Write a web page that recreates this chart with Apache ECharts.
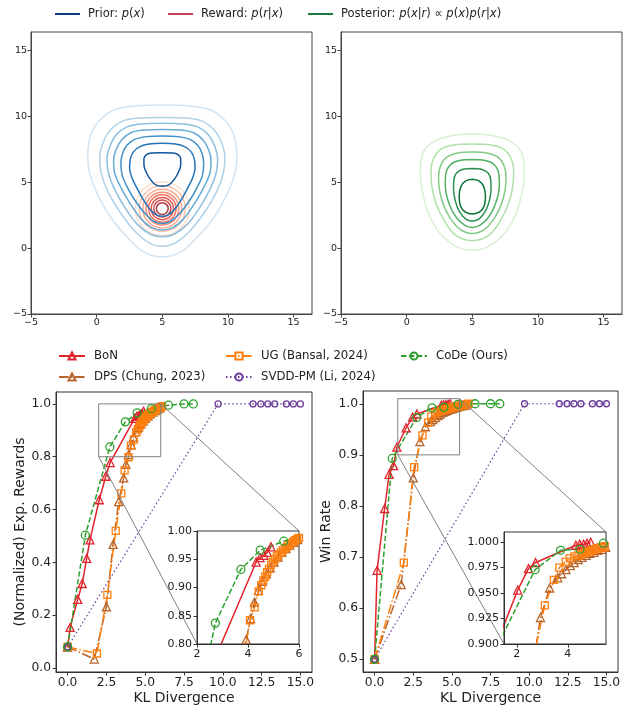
<!DOCTYPE html>
<html>
<head>
<meta charset="utf-8">
<script src="https://cdn.jsdelivr.net/npm/echarts@6/dist/echarts.min.js"></script>
<style>
  html, body { margin: 0; padding: 0; background: #fff; }
  #chart { width: 627px; height: 709px; }
</style>
</head>
<body>
<div id="chart"></div>
<script>
// ---------- toy 2-D example (top) ----------
var contourTicks = [-5, 0, 5, 10, 15];

// prior p(x) contours, outer -> inner
var prior1 = [[5,10.86],[3,10.8],[1.3,10.48],[0.15,9.6],[-0.48,8.46],[-0.68,6.94],[-0.53,5.67],[0.03,4.15],[1.04,2.38],[2.31,0.86],[3.58,-0.28],[5,-0.66],[6.42,-0.28],[7.69,0.86],[8.96,2.38],[9.97,4.15],[10.53,5.67],[10.68,6.94],[10.48,8.46],[9.85,9.6],[8.7,10.48],[7,10.8],[5,10.86]];
var prior2 = [[5,9.92],[3.2,9.87],[1.9,9.6],[1.0,8.9],[0.45,7.9],[0.23,6.9],[0.35,5.7],[0.85,4.3],[1.8,2.7],[2.9,1.3],[4,0.4],[5,0.15],[6,0.4],[7.1,1.3],[8.2,2.7],[9.15,4.3],[9.65,5.7],[9.77,6.9],[9.55,7.9],[9,8.9],[8.1,9.6],[6.8,9.87],[5,9.92]];
var prior3 = [[5,9.47],[3.4,9.42],[2.3,9.2],[1.5,8.6],[1.0,7.7],[0.79,6.8],[0.9,5.7],[1.4,4.4],[2.2,3.0],[3.1,1.8],[4.1,1.05],[5,0.86],[5.9,1.05],[6.9,1.8],[7.8,3.0],[8.6,4.4],[9.1,5.7],[9.21,6.8],[9.0,7.7],[8.5,8.6],[7.7,9.2],[6.6,9.42],[5,9.47]];
var prior4 = [[5,9.01],[3.6,8.96],[2.6,8.75],[1.9,8.2],[1.45,7.4],[1.29,6.6],[1.4,5.6],[1.9,4.5],[2.6,3.3],[3.4,2.2],[4.2,1.55],[5,1.37],[5.8,1.55],[6.6,2.2],[7.4,3.3],[8.1,4.5],[8.6,5.6],[8.71,6.6],[8.55,7.4],[8.1,8.2],[7.4,8.75],[6.4,8.96],[5,9.01]];
var prior5 = [[5,8.51],[3.8,8.46],[2.9,8.25],[2.3,7.8],[1.95,7.1],[1.85,6.4],[1.95,5.5],[2.4,4.5],[3.0,3.5],[3.7,2.6],[4.4,2.0],[5,1.87],[5.6,2.0],[6.3,2.6],[7.0,3.5],[7.6,4.5],[8.05,5.5],[8.15,6.4],[8.05,7.1],[7.7,7.8],[7.1,8.25],[6.2,8.46],[5,8.51]];
var prior6 = [[5,7.95],[4,7.9],[3.3,7.7],[2.8,7.3],[2.55,6.7],[2.51,6.1],[2.7,5.3],[3.1,4.5],[3.6,3.6],[4.1,2.9],[4.6,2.5],[5,2.42],[5.4,2.5],[5.9,2.9],[6.4,3.6],[6.9,4.5],[7.3,5.3],[7.49,6.1],[7.45,6.7],[7.2,7.3],[6.7,7.7],[6,7.9],[5,7.95]];
var prior7 = [[5,7.24],[4.2,7.22],[3.8,7.1],[3.6,6.8],[3.6,6.3],[3.8,5.7],[4.1,5.2],[4.5,4.8],[5,4.7],[5.5,4.8],[5.9,5.2],[6.2,5.7],[6.4,6.3],[6.4,6.8],[6.2,7.1],[5.8,7.22],[5,7.24]];

// reward p(r|x): concentric rings
var rewardCenter = [5, 3];
var rewardRadii = [2.05, 1.75, 1.48, 1.25, 1.05, 0.85, 0.65, 0.45];

// posterior contours, outer -> inner
var post1 = [[5,8.66],[3.32,8.51],[2.05,8.08],[1.29,7.32],[1.04,5.92],[1.17,4.41],[1.67,2.63],[2.56,1.11],[3.83,0.1],[5,-0.15],[6.17,0.1],[7.44,1.11],[8.33,2.63],[8.83,4.41],[8.96,5.92],[8.71,7.32],[7.95,8.08],[6.68,8.51],[5,8.66]];
var post2 = [[5,7.9],[3.6,7.82],[2.6,7.5],[2.05,6.8],[1.85,5.9],[1.9,4.8],[2.2,3.5],[2.8,2.2],[3.7,1.0],[5,0.56],[6.3,1.0],[7.2,2.2],[7.8,3.5],[8.1,4.8],[8.15,5.9],[7.95,6.8],[7.4,7.5],[6.4,7.82],[5,7.9]];
var post3 = [[5,7.29],[3.9,7.22],[3.05,6.9],[2.6,6.3],[2.43,5.4],[2.5,4.4],[2.8,3.3],[3.3,2.3],[4.1,1.4],[5,1.11],[5.9,1.4],[6.7,2.3],[7.2,3.3],[7.5,4.4],[7.57,5.4],[7.4,6.3],[6.95,6.9],[6.1,7.22],[5,7.29]];
var post4 = [[5,6.73],[4.1,6.66],[3.4,6.4],[3.05,5.9],[2.94,5.1],[3.0,4.2],[3.3,3.2],[3.8,2.3],[4.4,1.75],[5,1.57],[5.6,1.75],[6.2,2.3],[6.7,3.2],[7.0,4.2],[7.06,5.1],[6.95,5.9],[6.6,6.4],[5.9,6.66],[5,6.73]];
var post5 = [[5,6.05],[4.3,5.98],[3.8,5.7],[3.6,5.2],[3.57,4.5],[3.7,3.6],[4.0,2.8],[4.5,2.2],[5,2.05],[5.5,2.2],[6.0,2.8],[6.3,3.6],[6.43,4.5],[6.4,5.2],[6.2,5.7],[5.7,5.98],[5,6.05]];
var post6 = [[5,5.22],[4.5,5.1],[4.15,4.7],[4.0,4.0],[4.1,3.2],[4.45,2.75],[5,2.58],[5.55,2.75],[5.9,3.2],[6.0,4.0],[5.85,4.7],[5.5,5.1],[5,5.22]];

// ---------- KL vs reward / win rate (bottom) ----------
var klTicks = [0, 2.5, 5, 7.5, 10, 12.5, 15];
var rewardTicks = [0, 0.2, 0.4, 0.6, 0.8, 1.0];
var winTicks = [0.5, 0.6, 0.7, 0.8, 0.9, 1.0];
var leftZoomX = [2, 6], leftZoomY = [0.8, 1.0];
var leftInsetXTicks = [2, 4, 6], leftInsetYTicks = [0.8, 0.85, 0.9, 0.95, 1.0];
var rightZoomX = [1.5, 5.5], rightZoomY = [0.9, 1.01];
var rightInsetXTicks = [2, 4], rightInsetYTicks = [0.9, 0.925, 0.95, 0.975, 1.0];

var bonKL     = [0, 0.16, 0.65, 0.94, 1.23, 1.44, 2.04, 2.46, 2.74, 4.32, 4.47, 4.62, 4.76, 4.9];
var bonReward = [0.08, 0.154, 0.26, 0.32, 0.415, 0.485, 0.637, 0.726, 0.778, 0.945, 0.953, 0.957, 0.962, 0.972];
var bonWin    = [0.5, 0.674, 0.795, 0.862, 0.879, 0.915, 0.953, 0.974, 0.98, 0.997, 0.998, 0.998, 0.999, 1.0];

var dpsKL     = [0, 1.72, 2.5, 2.93, 3.29, 3.61, 3.76, 3.93, 4.1, 4.25, 4.41, 4.56, 4.72, 4.87, 5.02, 5.18, 5.33, 5.49, 5.64, 5.8, 5.95];
var dpsReward = [0.08, 0.034, 0.232, 0.468, 0.63, 0.72, 0.771, 0.808, 0.845, 0.874, 0.895, 0.911, 0.924, 0.935, 0.945, 0.954, 0.962, 0.969, 0.975, 0.98, 0.985];
var dpsWin    = [0.5, 0.646, 0.855, 0.926, 0.955, 0.965, 0.969, 0.973, 0.977, 0.98, 0.983, 0.985, 0.987, 0.989, 0.99, 0.992, 0.993, 0.995, 0.996, 0.997, 0.998];

var ugKL     = [0, 1.89, 2.56, 3.1, 3.46, 3.67, 3.92, 4.08, 4.26, 4.42, 4.52, 4.6, 4.67, 4.75, 4.82, 4.9, 4.97, 5.05, 5.13, 5.2, 5.29, 5.37, 5.45, 5.52, 5.6, 5.69, 5.77, 5.85, 5.93, 6.0, 6.08];
var ugReward = [0.08, 0.055, 0.277, 0.519, 0.661, 0.748, 0.798, 0.842, 0.865, 0.893, 0.904, 0.912, 0.919, 0.927, 0.933, 0.94, 0.945, 0.95, 0.955, 0.958, 0.962, 0.966, 0.969, 0.972, 0.975, 0.978, 0.981, 0.984, 0.986, 0.988, 0.991];
var ugWin    = [0.5, 0.689, 0.876, 0.938, 0.963, 0.975, 0.981, 0.984, 0.986, 0.987, 0.988, 0.989, 0.99, 0.99, 0.991, 0.992, 0.992, 0.993, 0.994, 0.994, 0.995, 0.995, 0.996, 0.996, 0.997, 0.997, 0.998, 0.998, 0.999, 0.999, 1.0];

var svddKL     = [0, 9.7, 11.95, 12.45, 12.9, 13.35, 14.1, 14.55, 15.0];
var svddReward = [0.08, 1, 1, 1, 1, 1, 1, 1, 1];
var svddWin    = [0.5, 1, 1, 1, 1, 1, 1, 1, 1];

var codeKL     = [0, 1.14, 2.72, 3.72, 4.48, 5.4, 6.5, 7.5, 8.1];
var codeReward = [0.08, 0.503, 0.837, 0.932, 0.966, 0.982, 0.995, 1.0, 1.0];
var codeWin    = [0.5, 0.893, 0.973, 0.992, 0.993, 0.999, 1.0, 1.0, 1.0];

// ---------- styles ----------
var FONT = 'DejaVu Sans';
var TXT = '#222';
var priorColors = ['#d3e4f3', '#b0d2e8', '#8cc0de', '#65aad4', '#4190c5', '#2474b7', '#11559e'];
var rewardColors = ['#fdd4bf', '#fcb397', '#fc9272', '#fb6e50', '#f04f3a', '#d8312a', '#bb1a1d', '#9c0a14'];
var postColors = ['#d9f0d3', '#b0dfaa', '#83ca84', '#52b165', '#2c9150', '#0c7233'];

var methods = [
  {name: 'BoN', kl: bonKL, reward: bonReward, win: bonWin, color: '#e0242b', symbol: 'triangle', size: 8, dash: 'solid', width: 1.5},
  {name: 'DPS (Chung, 2023)', kl: dpsKL, reward: dpsReward, win: dpsWin, color: '#b8642c', symbol: 'triangle', size: 8, dash: [9.6, 2.4, 1.5, 2.4], width: 1.5},
  {name: 'UG (Bansal, 2024)', kl: ugKL, reward: ugReward, win: ugWin, color: '#ff7f0e', symbol: 'rect', size: 7, dash: [9.6, 2.4, 1.5, 2.4], width: 1.5},
  {name: 'SVDD-PM (Li, 2024)', kl: svddKL, reward: svddReward, win: svddWin, color: '#6a3d9a', symbol: 'circle', size: 6, dash: [1.5, 2.5], width: 1.2},
  {name: 'CoDe (Ours)', kl: codeKL, reward: codeReward, win: codeWin, color: '#2ca02c', symbol: 'circle', size: 8, dash: [5.5, 2.4], width: 1.5}
];

function minus(v) { return v < 0 ? '\u2212' + Math.abs(v) : String(v); }

function contourAxis(g) {
  return {
    type: 'value', gridIndex: g, min: -5, max: 16.4,
    axisLine: {show: true, onZero: false, lineStyle: {color: '#444', width: 1}},
    axisTick: {show: true, customValues: contourTicks, length: 3.5, lineStyle: {color: '#444'}},
    axisLabel: {customValues: contourTicks, formatter: minus, fontSize: 9.5, color: TXT, fontFamily: FONT, margin: 4},
    splitLine: {show: false}
  };
}

function valueAxis(g, range, ticks, fmt, fontSize, z, extra) {
  var a = {
    type: 'value', gridIndex: g, min: range[0], max: range[1], z: z,
    axisLine: {show: true, onZero: false, lineStyle: {color: '#333', width: 1}},
    axisTick: {show: true, customValues: ticks, length: 3.5, lineStyle: {color: '#333'}},
    axisLabel: {customValues: ticks, formatter: fmt, fontSize: fontSize, color: TXT, fontFamily: FONT, margin: 5},
    splitLine: {show: false}
  };
  for (var k in extra) a[k] = extra[k];
  return a;
}

function contourLine(name, pts, color, g) {
  return {
    type: 'line', name: name, xAxisIndex: g, yAxisIndex: g, data: pts,
    smooth: 0.35, symbol: 'none', silent: true, animation: false,
    lineStyle: {color: color, width: 1.5}
  };
}

function methodLine(m, ys, g, z) {
  var pts = m.kl.map(function (k, i) { return [k, ys[i]]; });
  return {
    type: 'line', name: m.name, xAxisIndex: g, yAxisIndex: g, data: pts,
    symbol: m.symbol, symbolSize: m.size, showAllSymbol: true, z: z,
    lineStyle: {color: m.color, width: m.width, type: m.dash},
    itemStyle: {color: 'rgba(255,255,255,0)', borderColor: m.color, borderWidth: 1.3},
    emphasis: {disabled: true}, silent: true, animation: false
  };
}

function buildOption(pxPerUnit, graphics) {
  var series = [];
  var priors = [prior1, prior2, prior3, prior4, prior5, prior6, prior7];
  for (var i = priors.length - 1; i >= 0; i--) series.push(contourLine('Prior', priors[i], priorColors[i], 0));
  rewardRadii.forEach(function (r, i) {
    series.push({
      type: 'scatter', name: 'Reward', xAxisIndex: 0, yAxisIndex: 0, data: [rewardCenter],
      symbol: 'circle', symbolSize: 2 * r * pxPerUnit, silent: true, animation: false,
      itemStyle: {color: 'rgba(255,255,255,0)', borderColor: rewardColors[i], borderWidth: 1.5}
    });
  });
  var posts = [post1, post2, post3, post4, post5, post6];
  for (var j = posts.length - 1; j >= 0; j--) series.push(contourLine('Posterior', posts[j], postColors[j], 1));

  methods.forEach(function (m) { series.push(methodLine(m, m.reward, 2, 2)); });
  methods.forEach(function (m) { series.push(methodLine(m, m.win, 3, 2)); });
  methods.forEach(function (m) { series.push(methodLine(m, m.reward, 4, 11)); });
  methods.forEach(function (m) { series.push(methodLine(m, m.win, 5, 11)); });

  var f1 = function (v) { return v.toFixed(1); };
  var f2 = function (v) { return v.toFixed(2); };
  var f3 = function (v) { return v.toFixed(3); };
  var f0 = function (v) { return String(v); };
  var nameStyle = {fontSize: 14, color: TXT, fontFamily: FONT};

  var topRich = {
    n: {fontSize: 11.5, fontFamily: FONT, color: TXT},
    i: {fontSize: 11.5, fontFamily: FONT, fontStyle: 'italic', color: TXT}
  };
  var topLabels = {
    'Prior': '{n|Prior: }{i|p}{n|(}{i|x}{n|)}',
    'Reward': '{n|Reward: }{i|p}{n|(}{i|r}{n||}{i|x}{n|)}',
    'Posterior': '{n|Posterior: }{i|p}{n|(}{i|x}{n||}{i|r}{n|) \u221D }{i|p}{n|(}{i|x}{n|)}{i|p}{n|(}{i|r}{n||}{i|x}{n|)}'
  };
  function topLegend(left, name, color) {
    return {
      left: left, top: 7, padding: 0, itemWidth: 25, itemHeight: 2, icon: 'rect', selectedMode: false,
      data: [{name: name, itemStyle: {color: color, borderColor: color, borderWidth: 0}}],
      formatter: function (n) { return topLabels[n]; },
      textStyle: {fontSize: 11.5, color: TXT, fontFamily: FONT, lineHeight: 14, padding: [0, 0, 0, 3], rich: topRich}
    };
  }
  function methodLegend(left, names) {
    return {
      left: left, top: 348, padding: 0, orient: 'vertical', itemWidth: 26, itemHeight: 9, itemGap: 5,
      selectedMode: false, data: names,
      textStyle: {fontSize: 11.7, color: TXT, fontFamily: FONT, lineHeight: 16, padding: [0, 0, 0, 4]}
    };
  }

  return {
    animation: false,
    backgroundColor: '#fff',
    textStyle: {fontFamily: FONT},
    legend: [
      topLegend(55, 'Prior', '#0f3c7c'),
      topLegend(168, 'Reward', '#b2182b'),
      topLegend(308, 'Posterior', '#187a3c'),
      methodLegend(58, ['BoN', 'DPS (Chung, 2023)']),
      methodLegend(225, ['UG (Bansal, 2024)', 'SVDD-PM (Li, 2024)']),
      methodLegend(400, ['CoDe (Ours)'])
    ],
    grid: [
      {left: 31, top: 32, width: 281, height: 282, show: true, borderColor: '#444', borderWidth: 1},
      {left: 341, top: 32, width: 281, height: 282, show: true, borderColor: '#444', borderWidth: 1},
      {left: 56, top: 392, width: 256, height: 280, show: true, borderColor: '#333', borderWidth: 1},
      {left: 363, top: 391, width: 255, height: 281, show: true, borderColor: '#333', borderWidth: 1},
      {left: 197, top: 531, width: 102, height: 113, show: true, backgroundColor: '#fff', borderColor: '#333', borderWidth: 1, z: 10},
      {left: 504, top: 532, width: 102, height: 112, show: true, backgroundColor: '#fff', borderColor: '#333', borderWidth: 1, z: 10}
    ],
    xAxis: [
      contourAxis(0), contourAxis(1),
      valueAxis(2, [-0.75, 15.75], klTicks, f1, 12.3, 0, {name: 'KL Divergence', nameLocation: 'middle', nameGap: 19, nameTextStyle: nameStyle}),
      valueAxis(3, [-0.75, 15.75], klTicks, f1, 12.3, 0, {name: 'KL Divergence', nameLocation: 'middle', nameGap: 19, nameTextStyle: nameStyle}),
      valueAxis(4, leftZoomX, leftInsetXTicks, f0, 11, 12, {}),
      valueAxis(5, rightZoomX, rightInsetXTicks, f0, 11, 12, {})
    ],
    yAxis: [
      contourAxis(0), contourAxis(1),
      valueAxis(2, [-0.015, 1.045], rewardTicks, f1, 12.3, 0, {name: '(Normalized) Exp. Rewards', nameLocation: 'middle', nameGap: 26, nameTextStyle: nameStyle}),
      valueAxis(3, [0.475, 1.025], winTicks, f1, 12.3, 0, {name: 'Win Rate', nameLocation: 'middle', nameGap: 30, nameTextStyle: nameStyle}),
      valueAxis(4, leftZoomY, leftInsetYTicks, f2, 11, 12, {}),
      valueAxis(5, rightZoomY, rightInsetYTicks, f3, 11, 12, {})
    ],
    graphic: graphics,
    series: series
  };
}

var chart = echarts.init(document.getElementById('chart'));
chart.setOption(buildOption(1, []));

function px(g, v) { return chart.convertToPixel({gridIndex: g}, v); }

function zoomMarks(gMain, gInset, xr, yr) {
  var tl = px(gMain, [xr[0], yr[1]]), br = px(gMain, [xr[1], yr[0]]);
  var bl = px(gMain, [xr[0], yr[0]]), tr = px(gMain, [xr[1], yr[1]]);
  var ibl = px(gInset, [xr[0], yr[0]]), itr = px(gInset, [xr[1], yr[1]]);
  var st = {fill: 'none', stroke: '#7f7f7f', lineWidth: 1};
  return [
    {type: 'rect', z: 5, silent: true, shape: {x: tl[0], y: tl[1], width: br[0] - tl[0], height: br[1] - tl[1]}, style: st},
    {type: 'line', z: 5, silent: true, shape: {x1: bl[0], y1: bl[1], x2: ibl[0], y2: ibl[1]}, style: st},
    {type: 'line', z: 5, silent: true, shape: {x1: tr[0], y1: tr[1], x2: itr[0], y2: itr[1]}, style: st}
  ];
}

var pxPerUnit = px(0, [1, 0])[0] - px(0, [0, 0])[0];
var marks = zoomMarks(2, 4, leftZoomX, leftZoomY).concat(zoomMarks(3, 5, rightZoomX, rightZoomY));
chart.setOption(buildOption(pxPerUnit, marks), true);
</script>
</body>
</html>
